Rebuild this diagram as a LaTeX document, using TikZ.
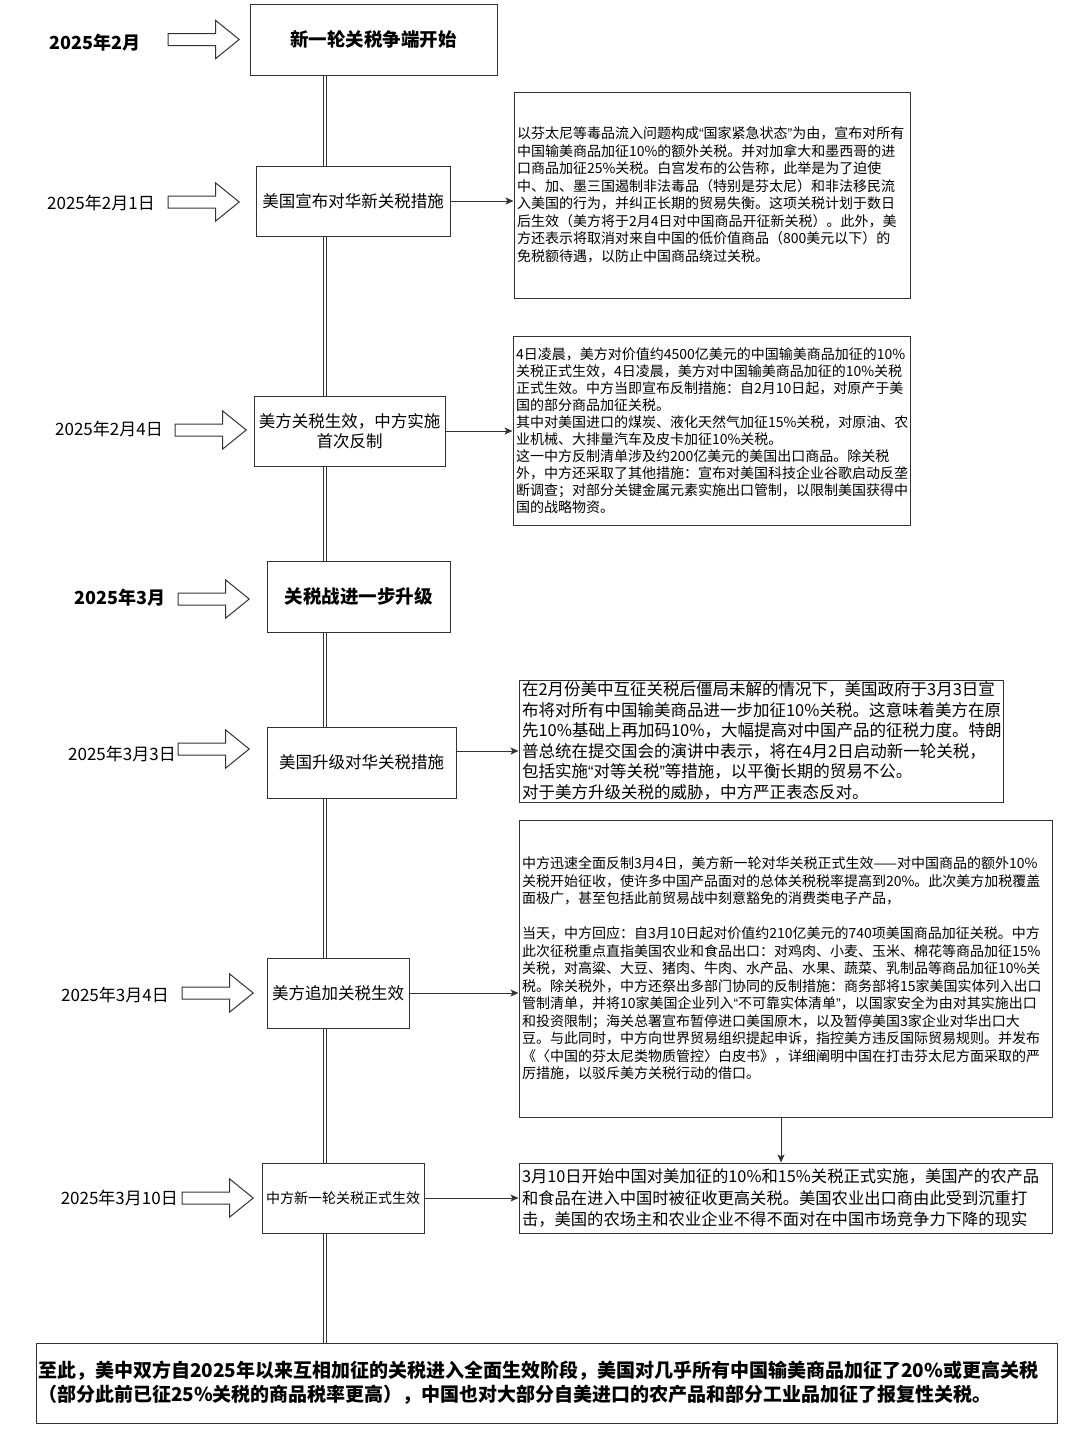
\documentclass[tikz,border=0pt]{standalone}
\usepackage{fontspec}
\setmainfont{Noto Sans CJK SC}
\newfontfamily\latinfont{Liberation Sans}
\newcommand{\zquote}[1]{{\latinfont “}#1{\latinfont ”}}
\usetikzlibrary{shapes.arrows,arrows.meta}
\definecolor{linec}{HTML}{333333}
\begin{document}
\begin{tikzpicture}[x=1pt,y=-1pt,
ev/.style={draw=linec, line width=1pt, fill=white, align=center, inner sep=1pt, font=\fontsize{16.5}{20}\selectfont},
evb/.style={ev, font=\fontsize{18.5}{22}\selectfont\bfseries},
note/.style={draw=linec, line width=1pt, fill=white, align=left, inner xsep=3pt, inner ysep=1pt, font=\fontsize{14}{17.5}\selectfont},
date/.style={anchor=east, inner sep=0pt, font=\fontsize{17}{20}\selectfont},
dateb/.style={date, font=\fontsize{18}{20}\selectfont\bfseries},
hollow/.style={single arrow, draw=linec, line width=1pt, fill=white, anchor=tip, minimum height=71pt, inner xsep=0pt, inner ysep=5.5pt, text height=0pt, text depth=0pt, single arrow head extend=13pt, single arrow tip angle=78},
arr/.style={draw=linec, line width=1pt, -{Stealth[length=8pt,width=7pt,inset=2pt]}},
timeline/.style={draw=linec, line width=1pt, double=white, double distance=2.8pt}]
%\draw[help lines] (0,0) grid[step=100] (1080,1440);
\useasboundingbox (0,0) rectangle (1080,1440);
\coordinate (axis) at (325,0);
\coordinate (drop) at (781,0);

\node[evb, minimum width=247pt, minimum height=71pt] (start) at (373.5,39.5) {新一轮关税争端开始};
\node[ev, minimum width=194pt, minimum height=70pt] (us1) at (353,201) {美国宣布对华新关税措施};
\node[ev, minimum width=191pt, minimum height=70pt] (us4) at (349.5,431) {美方关税生效，中方实施\\首次反制};
\node[evb, minimum width=183pt, minimum height=71pt] (mar) at (358.5,596.5) {关税战进一步升级};
\node[ev, minimum width=189pt, minimum height=71pt] (us3) at (361.5,762.5) {美国升级对华关税措施};
\node[ev, minimum width=142pt, minimum height=70pt] (us34) at (338,993) {美方追加关税生效};
\node[ev, minimum width=162pt, minimum height=70pt, font=\fontsize{14}{17}\selectfont] (cn10) at (343,1198) {中方新一轮关税正式生效};

\node[dateb] (d1) at (141,43) {2025年2月};
\node[date] (d2) at (155,203) {2025年2月1日};
\node[date] (d3) at (163,429) {2025年2月4日};
\node[dateb] (d4) at (166,598) {2025年3月};
\node[date] (d5) at (176,754) {2025年3月3日};
\node[date] (d6) at (169,995) {2025年3月4日};
\node[date] (d7) at (178,1198) {2025年3月10日};
\foreach \n/\x/\y in {1/240/39.5, 2/240/202, 3/247/430, 4/250/599, 5/250/749, 6/254/993, 7/254/1198}
  \node[hollow] (a\n) at (\x,\y) {};

\node[note, text width=390pt, minimum height=206pt] (txt1) at (712,195) {以芬太尼等毒品流入问题构成\zquote{国家紧急状态}为由，宣布对所有\\中国输美商品加征10\%的额外关税。并对加拿大和墨西哥的进\\口商品加征25\%关税。白宫发布的公告称，此举是为了迫使\\中、加、墨三国遏制非法毒品（特别是芬太尼）和非法移民流\\入美国的行为，并纠正长期的贸易失衡。这项关税计划于数日\\后生效（美方将于2月4日对中国商品开征新关税）。此外，美\\方还表示将取消对来自中国的低价值商品（800美元以下）的\\免税额待遇，以防止中国商品绕过关税。};
\node[note, text width=391pt, minimum height=189pt, font=\fontsize{14}{17}\selectfont] (txt2) at (711.5,430.5) {4日凌晨，美方对价值约4500亿美元的中国输美商品加征的10\%\\关税正式生效，4日凌晨，美方对中国输美商品加征的10\%关税\\正式生效。中方当即宣布反制措施：自2月10日起，对原产于美\\国的部分商品加征关税。\\其中对美国进口的煤炭、液化天然气加征15\%关税，对原油、农\\业机械、大排量汽车及皮卡加征10\%关税。\\这一中方反制清单涉及约200亿美元的美国出口商品。除关税\\外，中方还采取了其他措施：宣布对美国科技企业谷歌启动反垄\\断调查；对部分关键金属元素实施出口管制，以限制美国获得中\\国的战略物资。};
\node[note, text width=478pt, minimum height=122pt, font=\fontsize{16.5}{20.5}\selectfont] (txt3) at (761,741) {在2月份美中互征关税后僵局未解的情况下，美国政府于3月3日宣\\布将对所有中国输美商品进一步加征10\%关税。这意味着美方在原\\先10\%基础上再加码10\%，大幅提高对中国产品的征税力度。特朗\\普总统在提交国会的演讲中表示，将在4月2日启动新一轮关税，\\包括实施\zquote{对等关税}等措施，以平衡长期的贸易不公。\\对于美方升级关税的威胁，中方严正表态反对。};
\node[note, text width=527pt, minimum height=297pt] (txt4) at (785.5,968.5) {中方迅速全面反制3月4日，美方新一轮对华关税正式生效——对中国商品的额外10\%\\关税开始征收，使许多中国产品面对的总体关税税率提高到20\%。此次美方加税覆盖\\面极广，甚至包括此前贸易战中刻意豁免的消费类电子产品，\\[17.5pt]当天，中方回应：自3月10日起对价值约210亿美元的740项美国商品加征关税。中方\\此次征税重点直指美国农业和食品出口：对鸡肉、小麦、玉米、棉花等商品加征15\%\\关税，对高粱、大豆、猪肉、牛肉、水产品、水果、蔬菜、乳制品等商品加征10\%关\\税。除关税外，中方还祭出多部门协同的反制措施：商务部将15家美国实体列入出口\\管制清单，并将10家美国企业列入\zquote{不可靠实体清单}，以国家安全为由对其实施出口\\和投资限制；海关总署宣布暂停进口美国原木，以及暂停美国3家企业对华出口大\\豆。与此同时，中方向世界贸易组织提起申诉，指控美方违反国际贸易规则。并发布\\《〈中国的芬太尼类物质管控〉白皮书》，详细阐明中国在打击芬太尼方面采取的严\\厉措施，以驳斥美方关税行动的借口。};
\node[note, text width=527pt, minimum height=70pt, font=\fontsize{16.3}{21.5}\selectfont] (txt5) at (785.5,1198) {3月10日开始中国对美加征的10\%和15\%关税正式实施，美国产的农产品\\和食品在进入中国时被征收更高关税。美国农业出口商由此受到沉重打\\击，美国的农场主和农业企业不得不面对在中国市场竞争力下降的现实};
\node[note, inner xsep=2pt, text width=1017pt, minimum height=80pt, font=\fontsize{19}{24}\selectfont\bfseries] (summary) at (546.5,1383) {至此，美中双方自2025年以来互相加征的关税进入全面生效阶段，美国对几乎所有中国输美商品加征了20\%或更高关税\\（部分此前已征25\%关税的商品税率更高），中国也对大部分自美进口的农产品和部分工业品加征了报复性关税。};

\foreach \a/\b in {start/us1, us1/us4, us4/mar, mar/us3, us3/us34, us34/cn10, cn10/summary}
  \draw[timeline] (axis |- \a.south) -- (axis |- \b.north);
\coordinate (p3) at ([yshift=11.5pt]us3.east);
\draw[arr] (us1.east) -- (us1.east -| txt1.west);
\draw[arr] (us4.east) -- (us4.east -| txt2.west);
\draw[arr] (p3) -- (p3 -| txt3.west);
\draw[arr] (us34.east) -- (us34.east -| txt4.west);
\draw[arr] (cn10.east) -- (cn10.east -| txt5.west);
\draw[arr] (drop |- txt4.south) -- (drop |- txt5.north);
\end{tikzpicture}
\end{document}
